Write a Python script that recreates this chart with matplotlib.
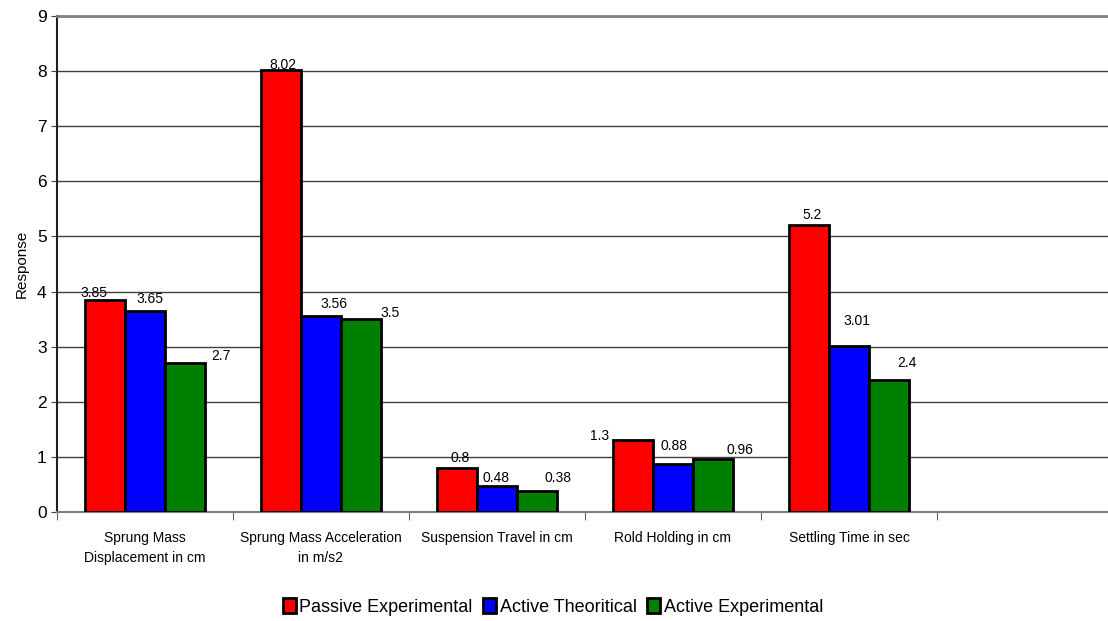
import matplotlib.pyplot as plt
import numpy as np

plt.rcParams['font.family'] = ['Liberation Sans', 'DejaVu Sans']

categories = ['Sprung Mass\nDisplacement in cm', 'Sprung Mass Acceleration\nin m/s2',
              'Suspension Travel in cm', 'Rold Holding in cm', 'Settling Time in sec', '']
passive_exp = [3.85, 8.02, 0.8, 1.3, 5.2]
active_theo = [3.65, 3.56, 0.48, 0.88, 3.01]
active_exp = [2.7, 3.5, 0.38, 0.96, 2.4]
series_names = ['Passive Experimental', 'Active Theoritical', 'Active Experimental']

series = [passive_exp, active_theo, active_exp]
colors = ['#ff0000', '#0000ff', '#008000']
# label offsets in pixels (dx from bar centre, dy from bar top), mimic the excel placement
label_dx = [[-11, 2, 3, -33, 3], [5, 13, -1, 1, 8], [36, 29, 21, 27, 18]]
label_dy = [[7, 5, 10, 4, 10], [12, 12, 8, 18, 25], [7, 6, 13, 9, 17]]

fig = plt.figure(figsize=(11.08, 6.21), dpi=100)
ax = fig.add_axes([57 / 1108, 109 / 621, 1056 / 1108, 496 / 621])

w = 0.227
x = np.arange(len(passive_exp))
for i, vals in enumerate(series):
    pos = x + (i - 1) * w
    ax.bar(pos, vals, w, color=colors[i], edgecolor='black', linewidth=2,
           label=series_names[i], zorder=3)
    for j, v in enumerate(vals):
        ax.annotate(f'{v:g}', (pos[j], v), xytext=(label_dx[i][j], label_dy[i][j]),
                    textcoords='offset pixels', ha='center', va='center', fontsize=10)

ax.set_xlim(-0.5, 5.5)
ax.set_ylim(0, 9)
ax.set_yticks(range(10))
ax.tick_params(axis='y', labelsize=12.5, length=4, color='#404040')
ax.grid(axis='y', color='#404040', linewidth=1, zorder=0)
ax.set_xticks(range(6))
ax.set_xticklabels(categories, fontsize=10, linespacing=1.55)
ax.set_xticks(np.arange(-0.5, 6, 1), minor=True)
ax.tick_params(axis='x', which='major', length=0, pad=14)
ax.tick_params(axis='x', which='minor', length=6, color='#404040')
ax.spines['right'].set_visible(False)
ax.spines['top'].set_color('#808080')
ax.spines['top'].set_linewidth(2)
ax.spines['bottom'].set_color('#808080')
ax.spines['bottom'].set_linewidth(1.5)
ax.spines['left'].set_color('#202020')
ax.spines['left'].set_linewidth(1.5)
ax.set_ylabel('Response', fontsize=11, labelpad=6)

fig.legend(loc='center', bbox_to_anchor=(553 / 1108, 1 - 607 / 621), ncol=3, frameon=False,
           fontsize=13, handlelength=0.7, handleheight=0.9, handletextpad=0.2, columnspacing=0.6)

fig.savefig('out.png', dpi=100)
